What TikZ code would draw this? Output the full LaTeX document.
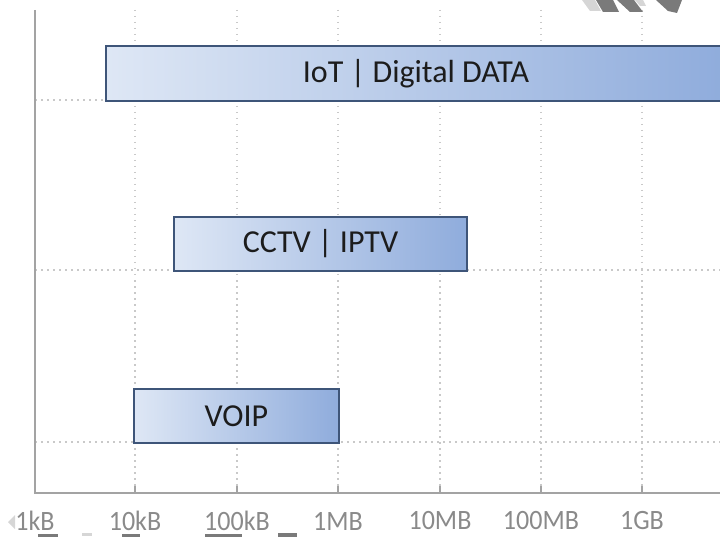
\documentclass[tikz,border=0pt]{standalone}
\usepackage{fontspec}
\setmainfont{Carlito}
\newfontfamily\axisfont[FakeStretch=0.93]{Carlito}

\definecolor{gridgray}{HTML}{C9C9C9}
\definecolor{axisgray}{HTML}{A3A3A3}
\definecolor{labelgray}{HTML}{8A8A8A}
\definecolor{bandlight}{HTML}{DEE7F5}
\definecolor{banddark}{HTML}{8FACDC}
\definecolor{bandedge}{HTML}{3E5579}
\definecolor{bandtext}{HTML}{1C1C1C}
\definecolor{marklight}{HTML}{D6D6D6}
\definecolor{markdark}{HTML}{7A7A7A}

\tikzset{
  gridline/.style={draw=gridgray, line width=1.3pt, dash pattern=on 1.5pt off 4.5pt},
  axisline/.style={draw=axisgray, line width=2pt},
  tickline/.style={draw=axisgray, line width=1.2pt},
  band/.style={draw=bandedge, line width=1.3pt, left color=bandlight, right color=banddark,
    text=bandtext, font=\fontsize{32}{38}\selectfont, inner sep=0pt},
  ticklabel/.style={font=\axisfont\fontsize{28}{30}\selectfont, text=labelgray, inner sep=0pt},
}

\begin{document}
\begin{tikzpicture}[x=1pt,y=-1pt]
\useasboundingbox (0,0) rectangle (720,537);

% dotted grid
\foreach \gx in {135,237,338,440,541,642}
  \draw[gridline] (\gx,10) -- (\gx,493);
\foreach \gy in {100,270,442}
  \draw[gridline] (35,\gy) -- (720,\gy);

% axes
\coordinate (ytop) at (35,10);
\coordinate (origin) at (35,493);
\coordinate (xend) at (720,493);
\draw[axisline] (ytop) -- (origin) -- (xend);
\foreach \gx in {135,237,338,440,541,642}
  \draw[tickline] (\gx,486) -- (\gx,493);

% axis labels
\foreach \lx/\lt in {35/1kB,135/10kB,237/100kB,338/1MB,440/10MB,541/100MB,642/1GB}
  \node[ticklabel] (lab\lt) at (\lx,521) {\lt};

% ranges
\node[band, minimum width=620pt, minimum height=55pt] (iot) at (416,73.5) {IoT | Digital DATA};
\node[band, minimum width=293pt, minimum height=54pt] (cctv) at (320.5,244) {CCTV | IPTV};
\node[band, minimum width=205pt, minimum height=54pt] (voip) at (236.5,416) {VOIP};

% grey strokes at the top right edge
\fill[marklight] (582,0) -- (595,0) -- (601,11) -- (590,11) -- cycle;
\fill[markdark] (596,0) -- (613,0) -- (619,12) -- (603,12) -- cycle;
\fill[markdark] (617,0) -- (634,0) -- (643,12) -- (630,12) -- cycle;
\fill[marklight] (635,0) -- (643,0) -- (646,6) -- (640,6) -- cycle;
\fill[markdark] (656,0) -- (682,0) -- (677,13) -- (668,11) -- cycle;

% grey marks along the bottom edge
\fill[marklight] (8,522) -- (15,515) -- (15,529) -- cycle;
\fill[markdark] (38,534) rectangle (58,537);
\fill[marklight] (82,533) rectangle (92,536);
\fill[markdark] (122,534) rectangle (140,537);
\fill[markdark] (205,534) rectangle (242,537);
\fill[markdark] (278,533) rectangle (297,537);
\end{tikzpicture}
\end{document}
